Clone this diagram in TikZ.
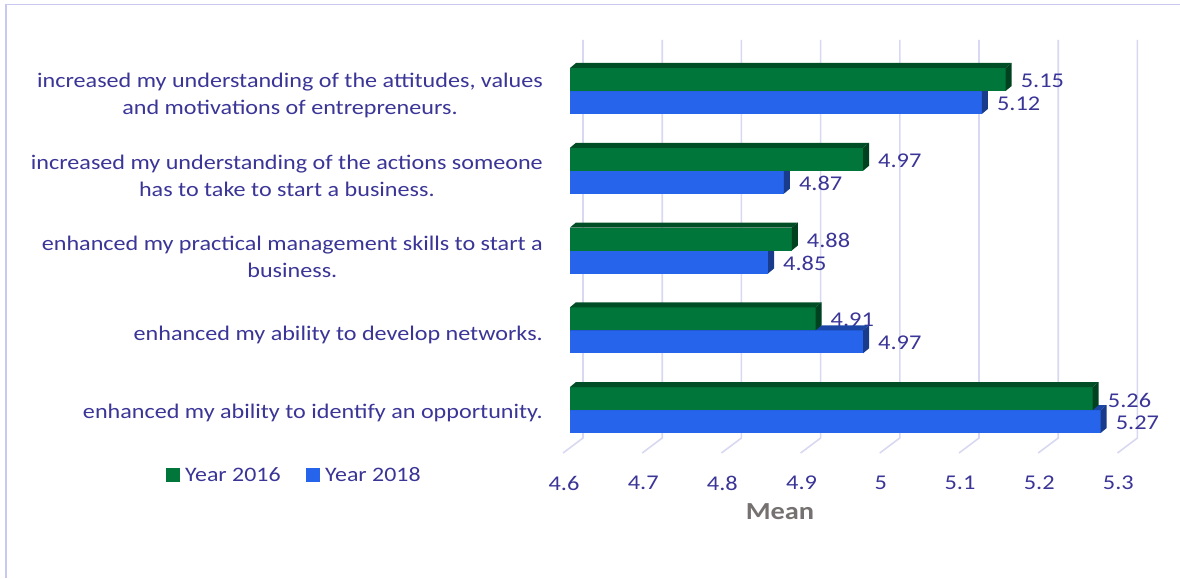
\documentclass[tikz,border=0pt]{standalone}
\usepackage{fontspec}
\setmainfont{Carlito}[FakeStretch=1.16]
\definecolor{txt}{RGB}{58,53,150}
\definecolor{gridc}{RGB}{216,216,242}
\definecolor{framec}{RGB}{200,200,240}
\definecolor{gfront}{RGB}{0,118,58}
\definecolor{gdark}{RGB}{0,78,38}
\definecolor{bfront}{RGB}{38,100,235}
\definecolor{bdark}{RGB}{28,70,165}
\definecolor{meanc}{RGB}{118,113,113}
\tikzset{
  gridline/.style={draw=gridc,line width=1.6pt},
  framestyle/.style={draw=framec,line width=1.6pt},
  ticklab/.style={text=txt,font=\fontsize{21}{25}\selectfont,inner sep=0pt},
  vallab/.style={text=txt,font=\fontsize{21}{25}\selectfont,inner sep=0pt,anchor=west},
  catlab/.style={text=txt,font=\fontsize{20.8}{27}\selectfont,inner sep=0pt,anchor=east,align=center},
  legtext/.style={text=txt,font=\fontsize{20.6}{25}\selectfont,inner sep=0pt,anchor=west},
}
\newcommand\barbox[4]{%
  \pgfmathsetmacro\xe{570+(#2-4.6)*792}%
  \fill[#3] (570,#1) rectangle (\xe,#1+23);
  \fill[#4] (570,#1) -- (576,#1-5) -- (\xe+6,#1-5) -- (\xe,#1) -- cycle;
  \fill[#4!85!black] (\xe,#1) -- (\xe+6,#1-5) -- (\xe+6,#1+18) -- (\xe,#1+23) -- cycle;
}
\begin{document}
\begin{tikzpicture}[x=1pt,y=-1pt]
\useasboundingbox (0,0) rectangle (1180,578);
\draw[framestyle] (6,578) -- (6,4.5) -- (1180,4.5);
% grid and tick labels
\foreach \k/\lab in {0/4.6,1/4.7,2/4.8,3/4.9,4/5,5/5.1,6/5.2,7/5.3}{
  \pgfmathsetmacro\gx{583+79.2*\k}
  \draw[gridline] (\gx,40) -- (\gx,438) -- (\gx-20,453);
  \node[ticklab] (tick\k) at (\gx-19,483) {\lab};
}
% data labels
\foreach \i/\g/\b in {0/5.15/5.12,1/4.97/4.87,2/4.88/4.85,3/4.91/4.97,4/5.26/5.27}{
  \pgfmathsetmacro\yg{68+79.75*\i}
  \pgfmathsetmacro\xg{570+(\g-4.6)*792}
  \pgfmathsetmacro\xb{570+(\b-4.6)*792}
  \node[vallab] (vg\i) at (\xg+15,\yg+13) {\g};
  \node[vallab] (vb\i) at (\xb+15,\yg+36) {\b};
}
% bars
\foreach \i/\g/\b in {0/5.15/5.12,1/4.97/4.87,2/4.88/4.85,3/4.91/4.97,4/5.26/5.27}{
  \pgfmathsetmacro\yg{68+79.75*\i}
  \barbox{\yg+23}{\b}{bfront}{bdark}
  \barbox{\yg}{\g}{gfront}{gdark}
}
% category labels
\node[catlab] (cat1) at (543,95.5) {increased my understanding of the attitudes, values\\and motivations of entrepreneurs.};
\node[catlab] (cat2) at (543,175.5) {increased my understanding of the actions someone\\has to take to start a business.};
\node[catlab] (cat3) at (543,257) {enhanced my practical management skills to start a\\business.};
\node[catlab] (cat4) at (543,335) {enhanced my ability to develop networks.};
\node[catlab] (cat5) at (543,413) {enhanced my ability to identify an opportunity.};
% axis title
\node[text=meanc,font=\fontsize{24.5}{28}\selectfont\bfseries,inner sep=0pt] (mean) at (780,512) {Mean};
% legend
\fill[gfront] (166,468) rectangle (180,482);
\node[legtext] (leg1) at (185,475) {Year 2016};
\fill[bfront] (306,468) rectangle (320,482);
\node[legtext] (leg2) at (325,475) {Year 2018};
\end{tikzpicture}
\end{document}
